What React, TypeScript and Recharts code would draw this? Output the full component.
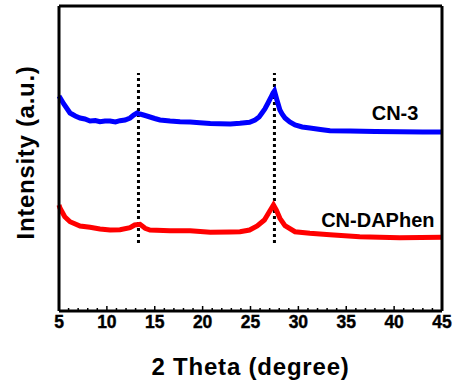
import React from 'react';
import {
  LineChart,
  Line,
  XAxis,
  YAxis,
  ReferenceLine,
  ReferenceDot,
} from 'recharts';

// CN-3 (blue) pattern
const cn3Theta = [
  5.0, 5.5, 6.15, 6.7, 7.2, 7.7, 8.24, 8.8, 9.28, 9.8, 10.33, 10.9, 11.37, 11.9, 12.42, 12.8,
  13.15, 13.46, 14.0, 14.5, 15.0, 15.55, 16.6, 17.64, 18.7, 19.7, 20.8, 21.8, 22.9, 23.9, 24.9,
  25.47, 25.9, 26.2, 26.5, 26.83, 27.1, 27.35, 27.5, 27.76, 28.07, 28.3, 28.6, 29.1, 29.65,
  30.4, 31.2, 32.3, 33.3, 35.4, 38.0, 40.6, 43.0, 45.0,
];
const cn3Intensity = [
  2150, 2070, 1980, 1950, 1930, 1920, 1900, 1905, 1893, 1900, 1900, 1890, 1903, 1910, 1930, 1960,
  1980, 1970, 1955, 1940, 1925, 1910, 1900, 1893, 1890, 1883, 1875, 1873, 1870, 1877, 1887,
  1910, 1940, 1980, 2020, 2080, 2130, 2180, 2200, 2110, 2010, 1970, 1930, 1890, 1860,
  1840, 1830, 1815, 1803, 1800, 1795, 1793, 1790, 1790,
];

// CN-DAPhen (red) pattern
const dapTheta = [
  5.0, 5.1, 5.6, 6.15, 7.2, 8.24, 9.28, 10.33, 11.37, 12.42, 12.9, 13.46, 14.0, 14.5, 16.6,
  18.7, 20.8, 22.9, 23.9, 24.9, 25.7, 26.45, 26.97, 27.4, 27.7, 28.07, 28.6, 29.65, 31.2,
  33.3, 36.4, 40.6, 45.0,
];
const dapIntensity = [
  1060, 1030, 943, 893, 850, 837, 820, 810, 813, 833, 860, 867, 827, 810, 803,
  803, 787, 790, 793, 810, 850, 910, 993, 1060, 1010, 927, 853, 793, 777,
  763, 743, 733, 737,
];

const majorTicks = [5, 10, 15, 20, 25, 30, 35, 40, 45];
const allTicks = Array.from({ length: 41 }, (_, i) => 5 + i);
const peakLines = [13.3, 27.5];
const peakSpan = [680, 2380];

const cn3Data = cn3Theta.map((t, i) => ({ theta: t, intensity: cn3Intensity[i] }));
const dapData = dapTheta.map((t, i) => ({ theta: t, intensity: dapIntensity[i] }));

const FONT = 'Arial, "Liberation Sans", sans-serif';

const BottomTick = (props: any) => {
  const { x, y, payload } = props;
  const major = majorTicks.includes(payload.value);
  return (
    <g>
      <line x1={x} x2={x} y1={y - 1} y2={y - (major ? 5 : 3)} stroke="#000" strokeWidth={1.5} />
      {major && (
        <text x={x} y={y + 17} textAnchor="middle" fontFamily={FONT} fontWeight="bold" fontSize={17.5}
          fill="#000" stroke="#000" strokeWidth={0.4}>
          {payload.value}
        </text>
      )}
    </g>
  );
};

const XTitle = (props: any) => {
  const vb = props.viewBox;
  return (
    <text x={vb.x + vb.width / 2} y={vb.y + 64} textAnchor="middle" fontFamily={FONT} fontWeight="bold" fontSize={24}
      style={{ letterSpacing: 0.8 }} fill="#000">
      2 Theta (degree)
    </text>
  );
};

const YTitle = (props: any) => {
  const vb = props.viewBox;
  const cx = vb.x + vb.width - 25;
  const cy = vb.y + vb.height / 2 - 6;
  return (
    <text x={cx} y={cy} transform={`rotate(-90 ${cx} ${cy})`} textAnchor="middle" fontFamily={FONT} fontWeight="bold"
      fontSize={24} style={{ letterSpacing: 0.7 }} fill="#000">
      Intensity (a.u.)
    </text>
  );
};

const axisLine = { stroke: '#000', strokeWidth: 3 };

export default function App() {
  return (
    <div style={{ position: 'absolute', left: 0, top: 0, background: '#fff' }}>
      <LineChart width={457} height={389} margin={{ top: 5, right: 14, bottom: 0, left: 0 }}>
        <XAxis
          dataKey="theta"
          type="number"
          domain={[5, 45]}
          ticks={allTicks}
          interval={0}
          tickSize={0}
          tickMargin={0}
          height={78}
          tick={<BottomTick />}
          tickLine={false}
          axisLine={axisLine}
          allowDuplicatedCategory={false}
          label={<XTitle />}
        />
        <XAxis xAxisId="top" orientation="top" type="number" domain={[5, 45]} height={1} tick={false} tickLine={false} axisLine={axisLine} />
        <YAxis type="number" domain={[0, 3050]} width={59} tick={false} tickLine={false} axisLine={axisLine} label={<YTitle />} />
        <YAxis yAxisId="right" orientation="right" type="number" domain={[0, 3050]} width={1} tick={false} tickLine={false} axisLine={axisLine} />
        {peakLines.map((p) => (
          <ReferenceLine
            key={p}
            segment={[{ x: p, y: peakSpan[0] }, { x: p, y: peakSpan[1] }]}
            stroke="#000"
            strokeWidth={3}
            strokeDasharray="3 3"
          />
        ))}
        <Line data={cn3Data} dataKey="intensity" type="linear" stroke="#0000ff" strokeWidth={5} dot={false} isAnimationActive={false} />
        <Line data={dapData} dataKey="intensity" type="linear" stroke="#ff0000" strokeWidth={5} dot={false} isAnimationActive={false} />
        <ReferenceDot x={40.1} y={1980} r={0} fill="none" stroke="none"
          label={{ value: 'CN-3', position: 'center', fontFamily: FONT, fontWeight: 'bold', fontSize: 20, fill: '#000' }} />
        <ReferenceDot x={38.3} y={910} r={0} fill="none" stroke="none"
          label={{ value: 'CN-DAPhen', position: 'center', fontFamily: FONT, fontWeight: 'bold', fontSize: 20, fill: '#000' }} />
      </LineChart>
    </div>
  );
}
